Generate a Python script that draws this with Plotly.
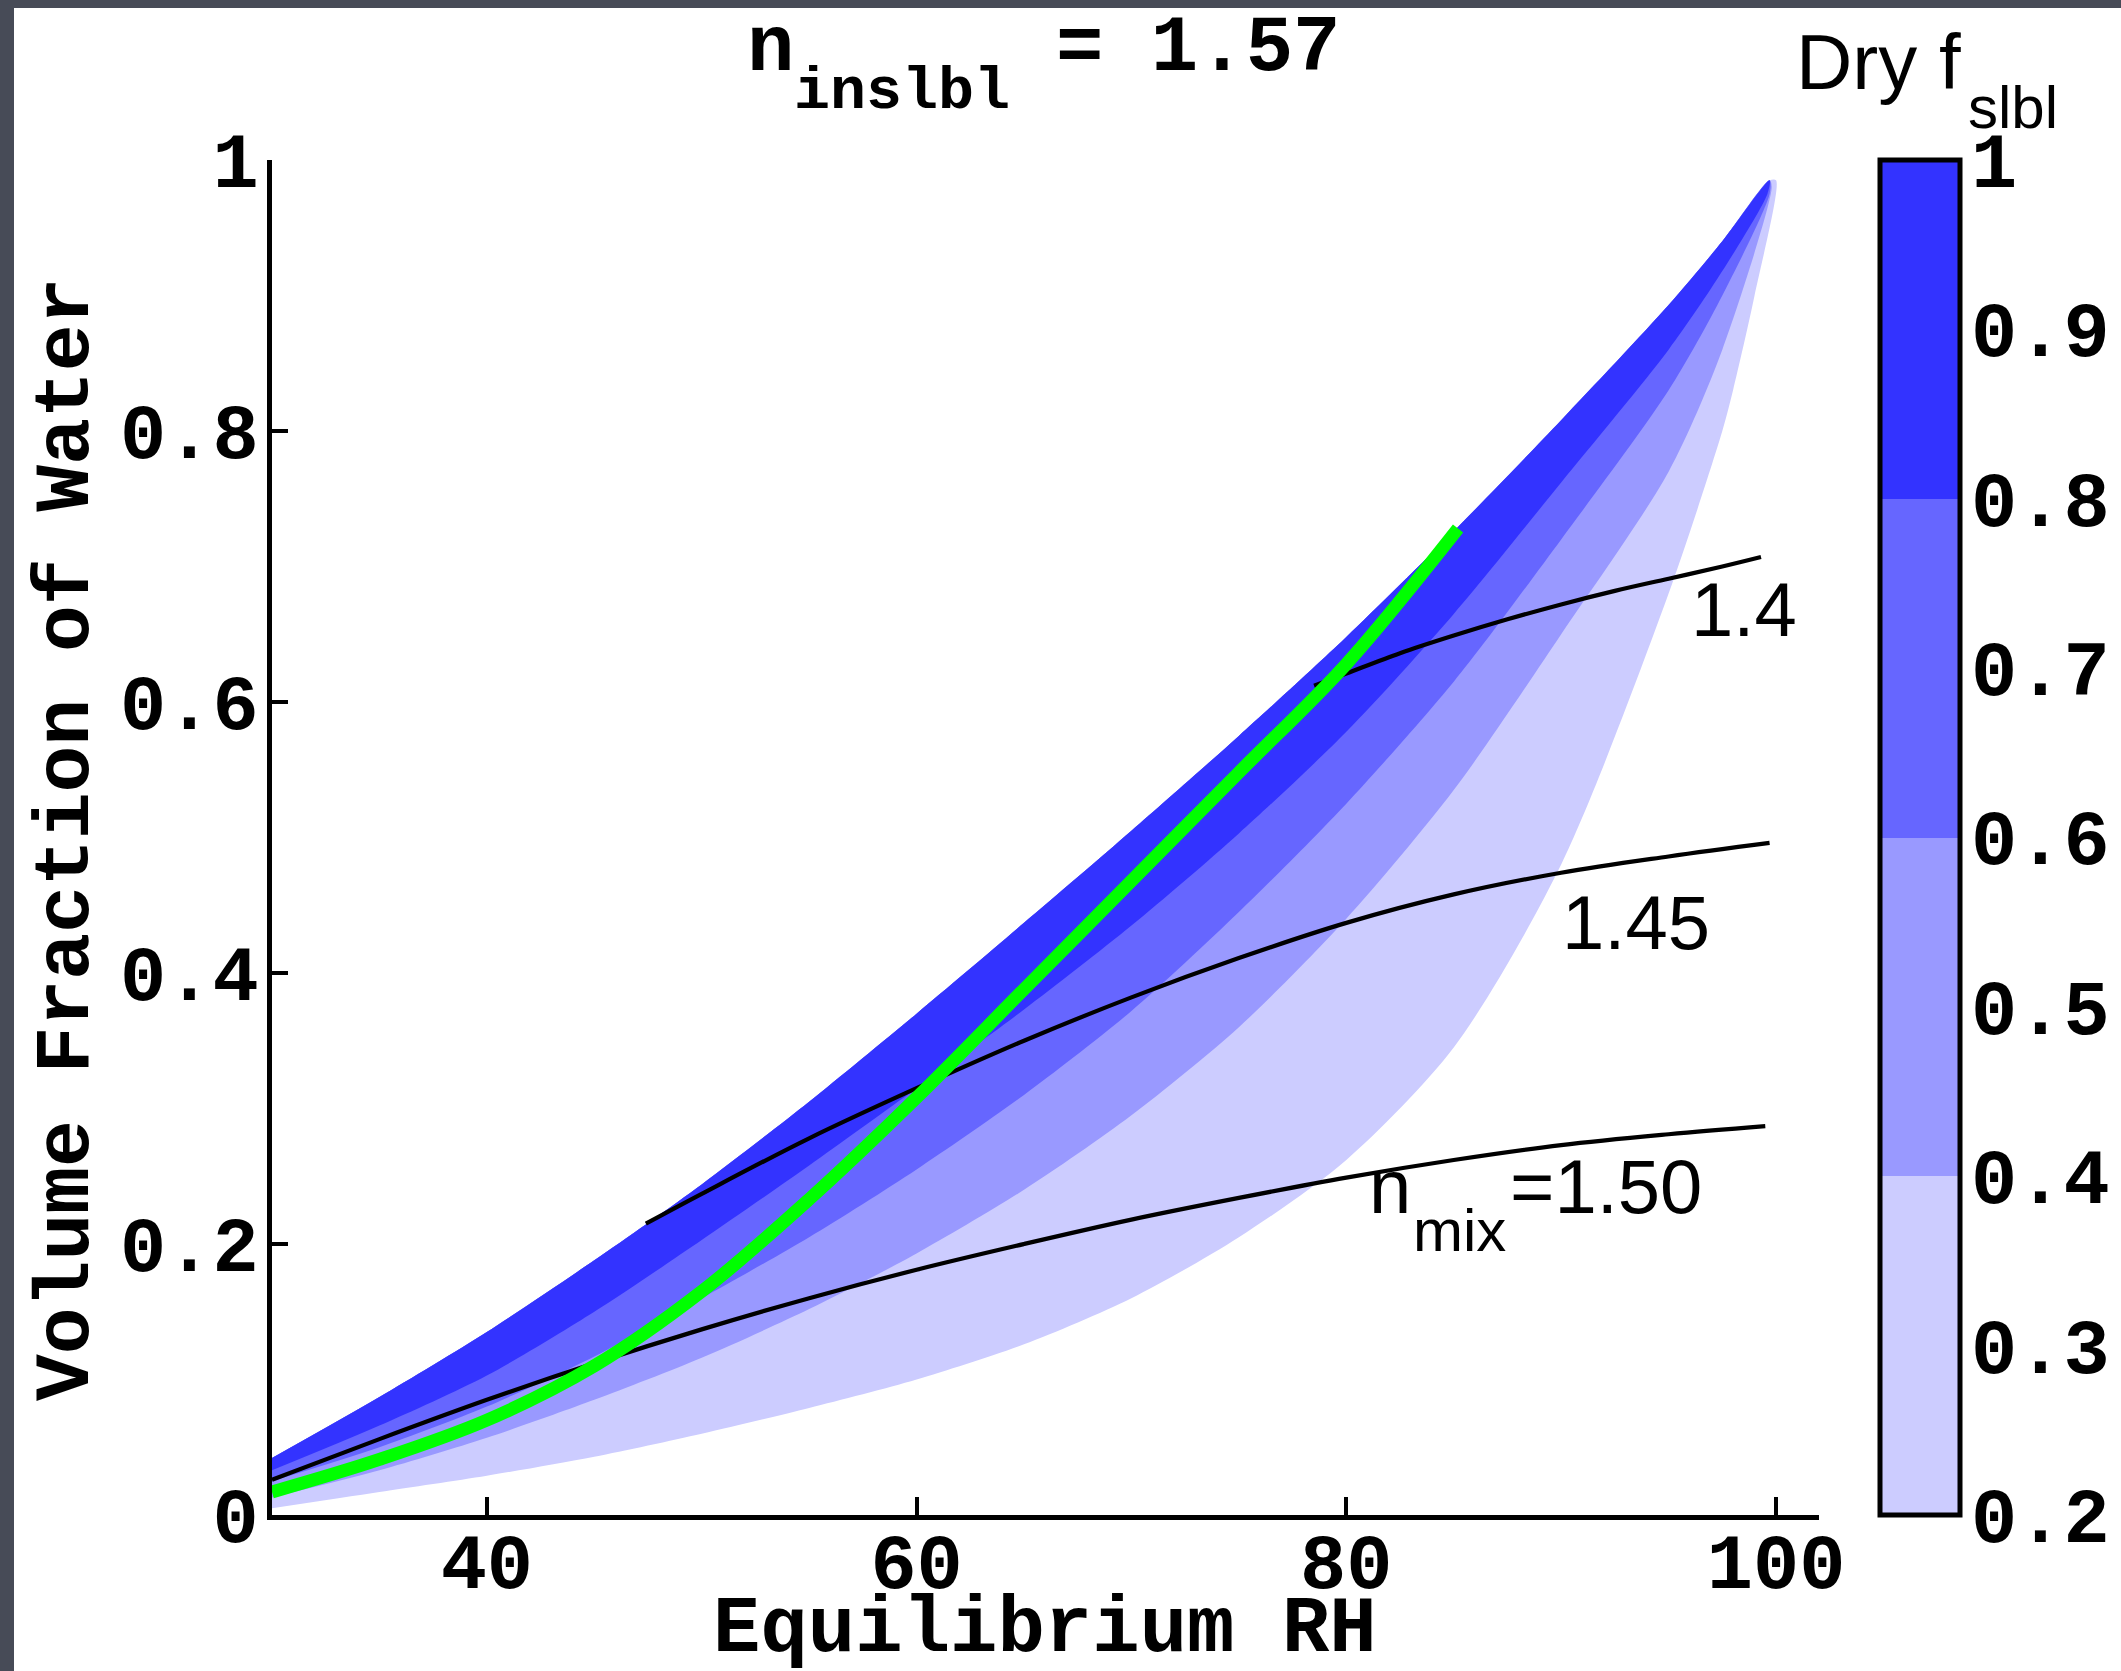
import plotly.graph_objects as go

# ---- data: water volume fraction vs equilibrium RH ----
# Boundaries of the dry soluble-fraction (f_slbl) bands
RH_F020 = [30, 35, 40, 45, 50, 55, 60, 65, 70, 75, 80, 85, 90, 95, 97.5, 98, 99, 100]
VF_F020 = [0.005, 0.017, 0.029, 0.043, 0.060, 0.079, 0.100, 0.126, 0.160, 0.205, 0.262, 0.345,
           0.480, 0.680, 0.800, 0.830, 0.900, 0.985]
RH_F040 = [30, 35, 40, 45, 50, 55, 60, 65, 70, 75, 80, 85, 90, 95, 97.5, 99.8]
VF_F040 = [0.013, 0.033, 0.057, 0.085, 0.116, 0.152, 0.193, 0.240, 0.295, 0.360, 0.440, 0.535,
           0.650, 0.770, 0.860, 0.980]
RH_F060 = [30, 35, 40, 45, 50, 55, 60, 65, 70, 75, 80, 85, 90, 95, 97.5, 99.7]
VF_F060 = [0.025, 0.050, 0.080, 0.117, 0.160, 0.205, 0.255, 0.310, 0.372, 0.445, 0.525, 0.615,
           0.720, 0.830, 0.900, 0.975]
RH_F080 = [30, 35, 40, 45, 50, 55, 60, 65, 70, 75, 80, 85, 90, 95, 97.5, 99.6]
VF_F080 = [0.033, 0.066, 0.103, 0.150, 0.203, 0.258, 0.315, 0.373, 0.435, 0.503, 0.578, 0.665,
           0.762, 0.860, 0.918, 0.975]
RH_F100 = [30, 35, 40, 45, 50, 55, 60, 65, 70, 75, 80, 85, 90, 95, 97.5, 99.7]
VF_F100 = [0.042, 0.087, 0.135, 0.188, 0.244, 0.305, 0.370, 0.437, 0.505, 0.575, 0.648, 0.726,
           0.808, 0.893, 0.940, 0.985]

BAND_COLORS = ["#CCCCFF", "#9999FF", "#6666FF", "#3333FF"]
F_TICKS = [0.2, 0.3, 0.4, 0.5, 0.6, 0.7, 0.8, 0.9, 1.0]
F_TICK_TEXT = ["0.2", "0.3", "0.4", "0.5", "0.6", "0.7", "0.8", "0.9", "1"]

# constant mixed refractive index lines
RH_N150 = [30, 35, 40, 45, 50, 55, 60, 65, 70, 75, 80, 85, 90, 95, 99.5]
VF_N150 = [0.026, 0.056, 0.085, 0.112, 0.137, 0.160, 0.181, 0.200, 0.218, 0.234, 0.249, 0.262,
           0.273, 0.281, 0.287]
RH_N145 = [47.4, 50, 55, 60, 65, 70, 75, 80, 85, 90, 95, 99.7]
VF_N145 = [0.215, 0.237, 0.278, 0.315, 0.350, 0.382, 0.411, 0.437, 0.458, 0.474, 0.486, 0.496]
RH_N140 = [78.5, 80, 82.5, 85, 87.5, 90, 92.5, 95, 97.5, 99.3]
VF_N140 = [0.612, 0.621, 0.636, 0.649, 0.661, 0.672, 0.682, 0.691, 0.700, 0.707]

# retrieved path
RH_PATH = [30, 35, 40, 45, 50, 55, 60, 65, 70, 75, 80, 85.2]
VF_PATH = [0.017, 0.041, 0.070, 0.110, 0.165, 0.233, 0.308, 0.388, 0.468, 0.548, 0.628, 0.728]

X_TICKS = [40, 60, 80, 100]
Y_TICKS = [0, 0.2, 0.4, 0.6, 0.8, 1.0]
Y_TICK_TEXT = ["0", "0.2", "0.4", "0.6", "0.8", "1"]

# ---- page geometry (pixels) ----
W, H = 2121, 1671
L, R, T, B = 272, 1819, 160, 1515      # data axes box
PR = 2111                               # right edge of the paper area
CB_L, CB_R = 1880, 1960                 # colour bar
MONO = "Liberation Mono"
SANS = "Liberation Sans"


def px(x):
    return (x - L) / (PR - L)


def py(y):
    return (B - y) / (B - T)


fig = go.Figure()

# stacked fills: each layer runs from its lower boundary up to the f = 1 edge
lower_bounds = [(RH_F020, VF_F020), (RH_F040, VF_F040), (RH_F060, VF_F060), (RH_F080, VF_F080)]
for (lo_x, lo_y), color in zip(lower_bounds, BAND_COLORS):
    fig.add_trace(go.Scatter(
        x=list(lo_x) + list(RH_F100)[::-1],
        y=list(lo_y) + list(VF_F100)[::-1],
        mode="lines", fill="toself", fillcolor=color,
        line=dict(width=0, color=color, shape="spline", smoothing=0.8), hoverinfo="skip"))

for xs, ys in [(RH_N150, VF_N150), (RH_N145, VF_N145), (RH_N140, VF_N140)]:
    fig.add_trace(go.Scatter(x=xs, y=ys, mode="lines",
                             line=dict(color="black", width=4.2, shape="spline")))

fig.add_trace(go.Scatter(x=RH_PATH, y=VF_PATH, mode="lines",
                         line=dict(color="#00FF00", width=13, shape="spline")))

# colour bar carried by an off-axis marker trace; its labels come from yaxis2
scale = []
for i, c in enumerate(BAND_COLORS):
    scale += [[i / 4, c], [(i + 1) / 4, c]]
fig.add_trace(go.Scatter(
    x=[500, 500], y=[0.5, 0.5], mode="markers", yaxis="y2",
    marker=dict(color=[0.2, 1.0], cmin=0.2, cmax=1.0, colorscale=scale, showscale=True,
                colorbar=dict(
                    x=px(CB_L), xanchor="left", y=0.5, yanchor="middle",
                    len=1.0, lenmode="fraction", thickness=CB_R - CB_L, thicknessmode="pixels",
                    xpad=0, ypad=0, outlinewidth=5, outlinecolor="black",
                    ticks="", showticklabels=False)),
    hoverinfo="skip"))

axis_font = dict(family=MONO, size=77, color="black", weight="bold")
fig.update_layout(
    xaxis=dict(domain=[0, (R - L) / (PR - L)], range=[30, 102], tickvals=X_TICKS,
               ticks="inside", ticklen=18, tickwidth=4, tickcolor="black", showline=True,
               linewidth=5, linecolor="black", showgrid=False, zeroline=False,
               tickfont=axis_font, ticklabelstandoff=-24),
    yaxis=dict(range=[0, 1], tickvals=Y_TICKS, ticktext=Y_TICK_TEXT, ticks="inside",
               ticklen=16, tickwidth=4, tickcolor="black", showline=True, linewidth=5,
               linecolor="black", showgrid=False, zeroline=False, tickfont=axis_font,
               ticklabelstandoff=-7),
    yaxis2=dict(range=[0.2, 1.0], overlaying="y", anchor="free", position=px(CB_R),
                side="right", tickvals=F_TICKS, ticktext=F_TICK_TEXT, ticks="",
                showline=False, showgrid=False, zeroline=False, tickfont=axis_font,
                ticklabelstandoff=10),
)

shapes = [
    dict(type="rect", xref="paper", yref="paper", x0=px(-5), x1=px(14), y0=py(H + 5), y1=py(-5),
         fillcolor="#474b57", line=dict(width=0), layer="below"),
    dict(type="rect", xref="paper", yref="paper", x0=px(-5), x1=px(W + 5), y0=py(8), y1=py(-5),
         fillcolor="#474b57", line=dict(width=0), layer="below"),
]
# colour-bar tick marks on both inner edges
for v in F_TICKS[1:-1]:
    yy = (v - 0.2) / 0.8
    for x0, x1 in [(CB_L, CB_L + 16), (CB_R - 16, CB_R)]:
        shapes.append(dict(type="line", xref="paper", yref="paper", x0=px(x0), x1=px(x1),
                           y0=yy, y1=yy, line=dict(color="black", width=4)))

ASC = {MONO: 0.833, SANS: 0.905}


def label(text, left, baseline, size, family, bold=False):
    return dict(text=text, x=px(left), y=py(baseline - ASC[family] * size - 1),
                xref="paper", yref="paper", xanchor="left", yanchor="top",
                showarrow=False,
                font=dict(family=family, size=size, color="black",
                          weight="bold" if bold else "normal"))


annotations = [
    label("n", 745, 69, 79, MONO, True),
    label("inslbl", 792, 107, 60, MONO, True),
    label("= 1.57", 1054, 69, 79, MONO, True),
    label("Dry f", 1794, 88, 78, SANS),
    label("slbl", 1966, 127, 60, SANS),
    label("1.4", 1689, 635, 76, SANS),
    label("1.45", 1560, 948, 76, SANS),
    label("n", 1367, 1212, 76, SANS),
    label("mix", 1411, 1250, 60, SANS),
    label("=1.50", 1508, 1212, 76, SANS),
    dict(text="Equilibrium RH", x=px(1045), y=py(1650 - 0.833 * 79 - 1), xref="paper",
         yref="paper", xanchor="center", yanchor="top", showarrow=False,
         font=dict(family=MONO, size=79, color="black", weight="bold")),
    dict(text="Volume Fraction of Water", x=px(67), y=py(840), xref="paper", yref="paper",
         xanchor="center", yanchor="middle", textangle=-90, showarrow=False,
         font=dict(family=MONO, size=78, color="black", weight="bold")),
]

fig.update_layout(width=W, height=H,
                  margin=dict(l=L, r=W - PR, t=T, b=H - B, autoexpand=False),
                  paper_bgcolor="white", plot_bgcolor="white", showlegend=False,
                  shapes=shapes, annotations=annotations)

fig.write_html("out.html")
